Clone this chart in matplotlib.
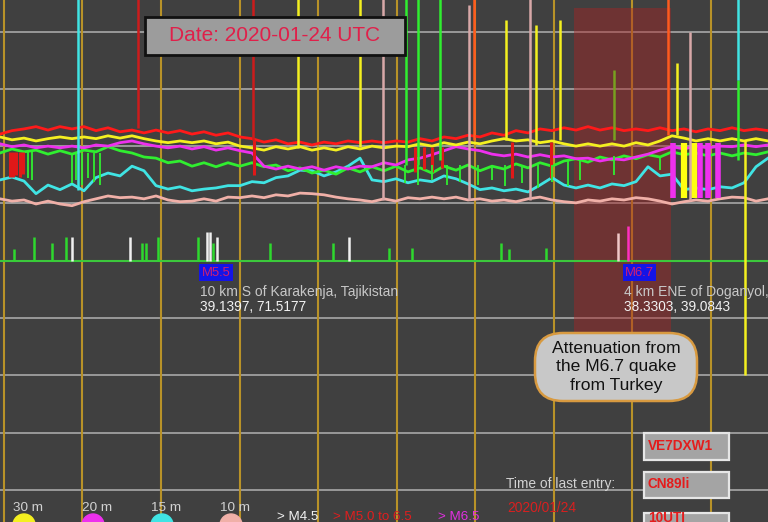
import numpy as np
import matplotlib.pyplot as plt
from matplotlib.patches import Rectangle, FancyBboxPatch, Circle

plt.rcParams['font.family'] = ['Liberation Sans', 'DejaVu Sans']

# x = UTC hour on 2020-01-24, y = relative signal level
T_START, T_END = 9.95, 19.73
LEVEL_MIN, LEVEL_MAX = -5.6, 85.5
hour_lines = list(range(10, 20))
level_lines = list(range(0, 90, 10))
quake_baseline = 40

# signal traces (one sample every ~9 min)
sig_red = [62.1, 62.7, 63.0, 63.4, 62.8, 63.4, 63.0, 63.4, 62.7, 63.2, 62.5, 62.8, 62.3,
           62.8, 62.3, 62.7, 62.1, 62.5, 61.9, 62.3, 61.6, 61.3, 60.7, 61.1, 60.4, 60.7,
           60.2, 60.7, 60.4, 60.9, 60.6, 60.9, 60.6, 60.9, 60.7, 61.3, 60.9, 61.6, 61.3,
           61.9, 61.6, 62.3, 61.9, 62.7, 62.3, 63.0, 62.7, 63.2, 62.8, 63.4, 62.8, 63.2,
           62.7, 63.0, 62.7, 63.2, 62.7, 63.0, 62.5, 63.0, 62.7, 63.2, 62.7, 63.0, 62.7]
sig_30m = [61.6, 61.1, 61.4, 60.9, 61.3, 61.6, 61.3, 61.6, 61.3, 61.8, 61.4, 61.8, 61.3,
           60.9, 60.6, 60.9, 60.6, 60.9, 60.4, 60.7, 60.0, 59.7, 59.3, 59.9, 59.5, 59.9,
           59.3, 59.7, 59.3, 59.9, 59.5, 60.0, 59.7, 60.0, 59.9, 60.4, 60.0, 60.6, 60.2,
           60.7, 60.4, 60.9, 61.3, 60.9, 61.1, 60.6, 60.9, 60.4, 60.0, 60.4, 60.0, 60.4,
           60.0, 60.6, 60.2, 60.9, 61.8, 61.4, 60.9, 61.3, 60.9, 61.3, 60.9, 61.3, 60.9]
sig_20m = [60.4, 59.9, 60.2, 59.7, 60.0, 59.7, 60.0, 59.7, 60.2, 60.0, 60.6, 60.9, 60.4,
           60.0, 59.7, 60.0, 59.5, 59.9, 59.3, 59.7, 59.2, 58.8, 56.5, 56.0, 56.5, 56.0,
           56.4, 55.8, 56.4, 56.0, 56.5, 56.4, 57.1, 56.7, 57.6, 57.9, 58.5, 59.2, 59.9,
           59.5, 59.2, 58.6, 58.3, 58.6, 58.1, 58.5, 58.1, 58.3, 57.8, 57.9, 57.4, 57.8,
           57.6, 58.1, 58.6, 59.3, 59.9, 59.5, 60.0, 59.7, 60.0, 59.9, 60.2, 59.9, 60.2]
sig_green = [58.8, 59.5, 59.0, 59.3, 58.6, 59.2, 58.6, 59.3, 59.0, 59.9, 59.2, 58.8, 58.1,
             57.9, 57.1, 57.4, 56.5, 57.1, 56.4, 57.1, 56.5, 57.1, 56.4, 56.7, 55.7, 56.2,
             55.3, 55.8, 55.1, 56.2, 55.5, 56.4, 55.7, 56.5, 55.5, 56.2, 55.3, 56.5, 55.8,
             56.7, 55.7, 56.5, 56.0, 56.9, 56.2, 57.1, 56.5, 57.4, 57.8, 57.2, 58.1, 57.6,
             58.3, 57.8, 58.5, 58.1, 59.0, 58.5, 58.8, 58.3, 58.8, 58.3, 58.8, 58.5, 59.0]
sig_15m = [54.1, 54.6, 53.9, 51.7, 53.2, 52.4, 53.4, 52.2, 54.5, 55.3, 54.8, 56.5, 55.7,
           53.1, 52.5, 52.9, 52.2, 52.5, 52.7, 53.1, 53.1, 53.8, 53.6, 54.5, 54.8, 55.8,
           55.7, 54.8, 55.5, 56.5, 57.9, 54.1, 53.8, 54.3, 53.6, 54.1, 53.8, 54.8, 54.3,
           53.4, 52.4, 52.7, 52.2, 52.5, 52.0, 53.2, 54.5, 53.2, 52.7, 53.2, 52.7, 53.4,
           53.1, 53.8, 56.4, 54.8, 55.1, 52.4, 52.7, 52.4, 52.9, 52.7, 53.6, 56.4, 57.9]
sig_10m = [50.8, 50.4, 50.6, 49.9, 50.4, 49.9, 49.6, 50.3, 50.8, 51.3, 51.0, 51.1, 50.8,
           51.3, 50.6, 50.3, 50.4, 50.8, 50.4, 51.1, 51.0, 51.3, 51.0, 51.5, 51.3, 51.8,
           51.7, 51.5, 51.1, 50.8, 50.6, 50.3, 50.8, 50.4, 51.0, 50.8, 51.1, 50.8, 51.1,
           50.6, 50.8, 50.4, 50.6, 50.3, 50.8, 51.1, 50.6, 50.3, 50.1, 50.6, 50.4, 50.8,
           50.6, 51.0, 50.8, 50.4, 49.9, 50.3, 50.6, 50.4, 50.8, 51.1, 51.0, 50.4, 50.8]

traces = [('10m', sig_10m), ('15m', sig_15m), ('green', sig_green),
          ('20m', sig_20m), ('30m', sig_30m), ('red', sig_red)]

# tall single-sample spikes
spike_t = [10.94, 11.71, 13.17, 13.75, 14.54, 14.83, 15.12, 15.27, 15.55, 15.92, 15.99,
           16.39, 16.70, 16.78, 17.08, 17.77, 18.46, 18.57, 18.74, 19.35, 19.35, 19.44]
spike_lo = [52.4, 63.2, 61.1, 59.7, 59.9, 50.6, 56.7, 56.7, 57.6, 50.6, 61.1,
            61.1, 50.6, 60.2, 61.1, 61.1, 62.0, 62.0, 50.6, 57.6, 71.6, 20.1]
spike_hi = [86, 86, 86, 86, 86, 86, 86, 86, 86, 84.6, 86,
            82.0, 86, 81.2, 82.0, 73.3, 86, 74.5, 79.9, 71.6, 86, 61.1]
spike_band = ['15m', 'red', 'red', '30m', '30m', '10m', 'green', 'green', 'green', '10m', 'orange',
              '30m', '10m', '30m', '30m', 'olive', 'orange', '30m', '10m', 'green', '15m', '30m']

# dropouts inside the traces
red_drop_t = [10.08, 10.12, 10.16, 10.20, 10.24, 13.19, 15.24, 15.35, 15.45, 15.58, 16.47, 16.97]
red_drop_lo = [54.6, 54.6, 55.0, 54.6, 55.2, 55.0, 55.5, 56.0, 55.5, 56.2, 54.5, 54.5]
red_drop_hi = [59.0, 59.0, 59.0, 59.0, 59.0, 61.0, 59.9, 59.9, 59.9, 59.9, 60.7, 60.7]
green_dip_t = [10.31, 10.36, 10.87, 10.92, 10.99, 11.07, 11.15, 11.22, 15.11, 15.27, 15.45,
               15.64, 15.81, 16.04, 16.22, 16.38, 16.60, 16.80, 16.98, 17.18, 17.34, 17.77, 18.36]
green_dip_lo = [54.5, 54.1, 53.6, 54.1, 53.2, 54.5, 53.8, 53.2, 53.6, 53.2, 54.1,
                53.2, 53.8, 53.2, 54.1, 53.0, 53.6, 52.7, 53.8, 53.0, 54.1, 55.0, 55.8]
green_dip_hi = [59.0, 59.0, 58.8, 58.8, 58.8, 58.8, 58.8, 58.8, 56.7, 56.7, 56.7,
                56.7, 56.7, 56.7, 56.7, 56.7, 56.7, 56.7, 56.7, 57.4, 57.6, 58.3, 58.3]
bar_20m_t = [18.52, 18.87, 18.96, 19.09]
bar_30m_t = [18.66, 18.79]
bar_lo, bar_hi = 51.0, 60.6

# earthquakes
quake_t = [10.13, 10.38, 10.61, 10.79, 10.87, 11.61, 11.76, 11.81, 11.96, 12.47, 12.59, 12.62,
           12.66, 12.71, 13.39, 14.19, 14.40, 14.90, 15.20, 16.33, 16.43, 16.90, 17.82, 17.95]
quake_top = [42.1, 44.2, 43.1, 44.2, 44.2, 44.2, 43.1, 43.1, 44.2, 44.2, 45.0, 45.0,
             43.1, 44.2, 43.1, 43.1, 44.2, 42.2, 42.2, 43.1, 42.1, 42.2, 44.9, 46.1]
quake_class = ['small', 'small', 'small', 'small', 'm45', 'm45', 'small', 'small', 'small', 'small',
               'm45', 'm45', 'small', 'm45', 'small', 'small', 'm45', 'small', 'small', 'small',
               'small', 'small', 'm45p', 'm65']
label_t = [12.50, 17.89]
label_mag = ['M5.5', 'M6.7']
label_place = ['10 km S of Karakenja, Tajikistan', '4 km ENE of Doganyol, Turkey']
label_coord = ['39.1397, 71.5177', '38.3303, 39.0843']

atten_start, atten_end = 17.26, 18.50
atten_lo, atten_hi = 26.2, 84.1

band_names = ['30 m', '20 m', '15 m', '10 m']
band_keys = ['30m', '20m', '15m', '10m']

COLORS = {'red': '#ff1a1a', '30m': '#f4f020', '20m': '#ee30ee', 'green': '#30ee30',
          '15m': '#40e4e4', '10m': '#f0b0a8', 'orange': '#ff5a1e', 'olive': '#78a020'}
SPIKE_COLORS = dict(COLORS, red='#cc1c1c', **{'10m': '#d8a8a8'})
QUAKE_COLORS = {'small': '#2ed82e', 'm45': '#f0f0f0', 'm45p': '#f0c8c8', 'm65': '#ff30c0'}
BG = '#404040'

fig = plt.figure(figsize=(7.68, 5.22), dpi=100)
fig.patch.set_facecolor(BG)
ax = fig.add_axes([0, 0, 1, 1])
ax.set_facecolor(BG)
ax.set_xlim(T_START, T_END)
ax.set_ylim(LEVEL_MIN, LEVEL_MAX)
ax.axis('off')

ax.hlines(level_lines, T_START, T_END, color='#a8a8a8', lw=1.2, zorder=1)
ax.vlines(hour_lines, LEVEL_MIN, LEVEL_MAX, color='#b89228', lw=1.5, zorder=1.1)
ax.add_patch(Rectangle((atten_start, atten_lo), atten_end - atten_start, atten_hi - atten_lo,
                       color='#a82424', alpha=0.45, lw=0, zorder=1.5))

time = np.linspace(T_START, T_END, len(sig_red))
for band, sig in traces:
    ax.plot(time, sig, color=COLORS[band], lw=2.0, zorder=2)

ax.vlines(red_drop_t, red_drop_lo, red_drop_hi, color='#e01818', lw=2.2, zorder=2)
ax.vlines(green_dip_t, green_dip_lo, green_dip_hi, color=COLORS['green'], lw=1.3, zorder=2)
ax.vlines(bar_20m_t, bar_lo, bar_hi, color=COLORS['20m'], lw=4, zorder=2.2)
ax.vlines(bar_30m_t, bar_lo, bar_hi, color='#ffff10', lw=4.5, zorder=2.2)
ax.vlines(spike_t, spike_lo, spike_hi, color=[SPIKE_COLORS[b] for b in spike_band],
          lw=1.8, zorder=2.5)

# earthquake strip
ax.axhline(quake_baseline, color='#3cc83c', lw=1.5, zorder=2)
ax.vlines(quake_t, quake_baseline, quake_top, color=[QUAKE_COLORS[c] for c in quake_class],
          lw=1.8, zorder=2.1)
for t, mag, place, coord in zip(label_t, label_mag, label_place, label_coord):
    ax.text(t + 0.02, 37.9, mag, color='#d02070', fontsize=9.4, va='center', ha='left',
            bbox=dict(boxstyle='square,pad=0.18', fc='#1414e6', ec='none'), zorder=3)
    ax.text(t, 34.5, place, color='#c8c8c8', fontsize=10, va='center', ha='left', zorder=3)
    ax.text(t, 31.9, coord, color='#f2f2f2', fontsize=9.8, va='center', ha='left', zorder=3)

inch = fig.dpi_scale_trans

# date box
ax.add_patch(Rectangle((1.45, 4.67), 2.60, 0.38, transform=inch, fc='#9c9c9c', ec='#111111',
                       lw=2, zorder=4))
ax.text(2.75, 4.86, 'Date: 2020-01-24 UTC', transform=inch, color='#e0204a', fontsize=15,
        ha='center', va='center', zorder=5)

# attenuation note
ax.add_patch(FancyBboxPatch((5.35, 1.21), 1.62, 0.68, transform=inch,
                            boxstyle='round,pad=0,rounding_size=0.28',
                            fc='#c8c8c8', ec='#d89a40', lw=1.8, zorder=4))
ax.text(6.16, 1.55, 'Attenuation from\nthe M6.7 quake\nfrom Turkey', transform=inch,
        color='#111111', fontsize=12.6, ha='center', va='center', linespacing=1.3, zorder=5)

# band legend
for i, (name, key) in enumerate(zip(band_names, band_keys)):
    xc = 0.24 + 0.69 * i
    ax.add_patch(Circle((xc, -0.03), 0.11, transform=inch, color=COLORS[key], zorder=5,
                        clip_on=False))
    ax.text(xc + 0.045, 0.14, name, transform=inch, color='#d2d2d2', fontsize=9.7,
            ha='center', va='center', zorder=5)

ax.text(2.77, 0.055, '> M4.5', transform=inch, color='#f2f2f2', fontsize=9.6, va='center', zorder=5)
ax.text(3.33, 0.055, '> M5.0 to 6.5', transform=inch, color='#e01e1e', fontsize=9.6, va='center',
        zorder=5)
ax.text(4.38, 0.055, '> M6.5', transform=inch, color='#e030e0', fontsize=9.6, va='center', zorder=5)

ax.text(5.06, 0.38, 'Time of last entry:', transform=inch, color='#d2d2d2', fontsize=9.9,
        va='center', zorder=5)
ax.text(5.07, 0.14, '2020/01/24', transform=inch, color='#d82020', fontsize=9.9, va='center',
        zorder=5)

# station boxes
for y0, h, label in [(0.62, 0.27, 'VE7DXW1'), (0.24, 0.26, 'CN89li'), (-0.10, 0.19, '10UTI')]:
    ax.add_patch(Rectangle((6.44, y0), 0.85, h, transform=inch, fc='#a4a4a4', ec='#e6e6e6',
                           lw=1.6, zorder=5))
    ax.text(6.48, y0 + 0.135, label, transform=inch, color='#e41c1c', fontsize=9.8,
            fontweight='bold', va='center', zorder=6)

fig.savefig('out.png', dpi=100, facecolor=BG)
